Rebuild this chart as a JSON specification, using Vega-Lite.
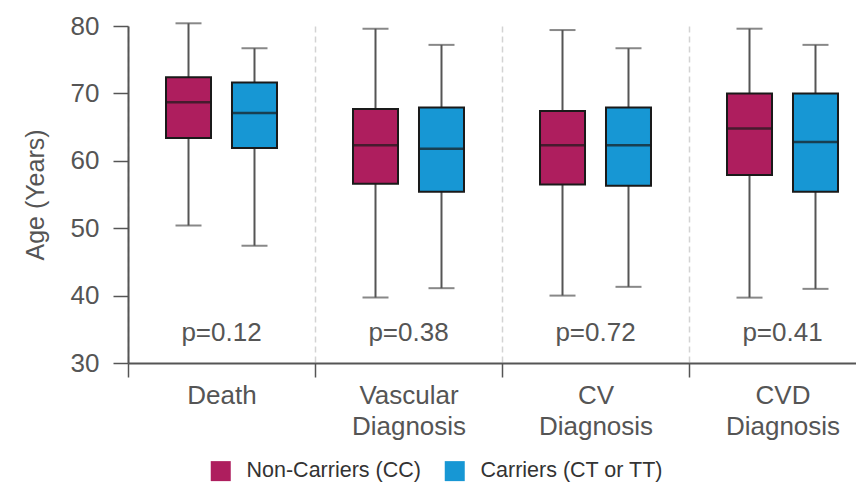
{
  "$schema": "https://vega.github.io/schema/vega-lite/v6.json",
  "autosize": {"type": "none"},
  "width": 728,
  "height": 337,
  "padding": {"left": 128, "top": 26, "right": 0, "bottom": 120},
  "config": {
    "view": {"stroke": null},
    "font": "Liberation Sans",
    "axis": {"labelColor": "#555555", "titleColor": "#555555", "domainColor": "#555555", "tickColor": "#555555", "labelFont": "Liberation Sans", "titleFont": "Liberation Sans", "titleFontWeight": "normal"},
    "legend": {"labelFont": "Liberation Sans"}
  },
  "datasets": {
    "boxes": [
      {"cat": "Death", "grp": "Non-Carriers (CC)", "min": 50.4, "q1": 63.4, "med": 68.7, "q3": 72.4, "max": 80.4},
      {"cat": "Death", "grp": "Carriers (CT or TT)", "min": 47.4, "q1": 61.9, "med": 67.1, "q3": 71.6, "max": 76.7},
      {"cat": "Vascular|Diagnosis", "grp": "Non-Carriers (CC)", "min": 39.7, "q1": 56.6, "med": 62.3, "q3": 67.7, "max": 79.6},
      {"cat": "Vascular|Diagnosis", "grp": "Carriers (CT or TT)", "min": 41.1, "q1": 55.4, "med": 61.8, "q3": 67.9, "max": 77.2},
      {"cat": "CV|Diagnosis", "grp": "Non-Carriers (CC)", "min": 40.0, "q1": 56.5, "med": 62.3, "q3": 67.4, "max": 79.4},
      {"cat": "CV|Diagnosis", "grp": "Carriers (CT or TT)", "min": 41.3, "q1": 56.3, "med": 62.3, "q3": 67.9, "max": 76.7},
      {"cat": "CVD|Diagnosis", "grp": "Non-Carriers (CC)", "min": 39.7, "q1": 57.9, "med": 64.8, "q3": 70.0, "max": 79.6},
      {"cat": "CVD|Diagnosis", "grp": "Carriers (CT or TT)", "min": 41.0, "q1": 55.4, "med": 62.8, "q3": 70.0, "max": 77.2}
    ],
    "pvals": [
      {"cat": "Death", "label": "p=0.12", "y": 34.5},
      {"cat": "Vascular|Diagnosis", "label": "p=0.38", "y": 34.5},
      {"cat": "CV|Diagnosis", "label": "p=0.72", "y": 34.5},
      {"cat": "CVD|Diagnosis", "label": "p=0.41", "y": 34.5}
    ]
  },
  "encoding": {
    "x": {
      "field": "cat", "type": "nominal",
      "scale": {"domain": ["Death", "Vascular|Diagnosis", "CV|Diagnosis", "CVD|Diagnosis"], "range": [0, 748], "paddingInner": 0, "paddingOuter": 0},
      "axis": {
        "title": null, "labelAngle": 0, "labelFontSize": 26, "labelLineHeight": 31, "labelPadding": 5,
        "labelExpr": "split(datum.label, '|')",
        "tickBand": "extent", "tickSize": 14, "tickWidth": 1.5, "domainWidth": 2,
        "grid": true, "gridDash": [6, 4], "gridColor": "#d3d3d3", "gridWidth": 1.5
      }
    }
  },
  "layer": [
    {
      "data": {"name": "boxes"},
      "mark": {"type": "rule", "color": "#555555", "strokeWidth": 2},
      "encoding": {
        "xOffset": {"field": "grp", "type": "nominal", "scale": {"domain": ["Non-Carriers (CC)", "Carriers (CT or TT)"], "paddingInner": 0, "paddingOuter": 0.417}},
        "y": {"field": "min", "type": "quantitative", "scale": {"domain": [30, 80], "nice": false, "zero": false},
          "axis": {"title": "Age (Years)", "titleFontSize": 25, "titleX": -93, "titleY": 168.5, "titleBaseline": "middle", "titleAngle": -90, "values": [30, 40, 50, 60, 70, 80], "labelFontSize": 26, "tickSize": 15, "tickWidth": 1.5, "domainWidth": 2, "labelPadding": 14, "grid": false}},
        "y2": {"field": "max"}
      }
    },
    {
      "data": {"name": "boxes"},
      "mark": {"type": "bar", "size": 45, "stroke": "#1a1a1a", "strokeWidth": 2},
      "encoding": {
        "xOffset": {"field": "grp", "type": "nominal"},
        "y": {"field": "q1", "type": "quantitative"},
        "y2": {"field": "q3"},
        "color": {"field": "grp", "type": "nominal",
          "scale": {"domain": ["Non-Carriers (CC)", "Carriers (CT or TT)"], "range": ["#AE1E5E", "#1797D4"]},
          "legend": {"title": null, "orient": "none", "direction": "horizontal", "legendX": 82, "legendY": 434,
            "symbolType": "square", "symbolSize": 400, "symbolStrokeWidth": 0, "symbolOpacity": 1,
            "labelFontSize": 21.5, "labelColor": "#333333", "labelOffset": 15, "columnPadding": 23, "labelLimit": 0}}
      }
    },
    {
      "data": {"name": "boxes"},
      "mark": {"type": "tick", "size": 46, "thickness": 2.5, "color": "#1a1a1a"},
      "encoding": {
        "xOffset": {"field": "grp", "type": "nominal"},
        "y": {"field": "med", "type": "quantitative"}
      }
    },
    {
      "data": {"name": "boxes"},
      "mark": {"type": "tick", "size": 26, "thickness": 2, "color": "#555555"},
      "encoding": {
        "xOffset": {"field": "grp", "type": "nominal"},
        "y": {"field": "max", "type": "quantitative"}
      }
    },
    {
      "data": {"name": "boxes"},
      "mark": {"type": "tick", "size": 26, "thickness": 2, "color": "#555555"},
      "encoding": {
        "xOffset": {"field": "grp", "type": "nominal"},
        "y": {"field": "min", "type": "quantitative"}
      }
    },
    {
      "data": {"name": "pvals"},
      "mark": {"type": "text", "fontSize": 26, "color": "#555555", "baseline": "middle", "align": "center"},
      "encoding": {
        "y": {"field": "y", "type": "quantitative"},
        "text": {"field": "label"}
      }
    }
  ]
}
